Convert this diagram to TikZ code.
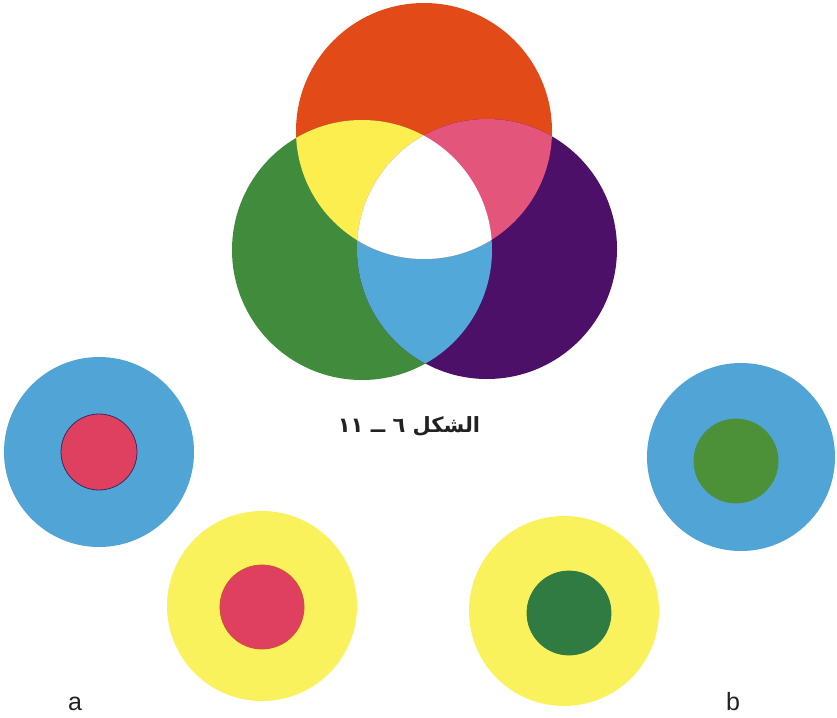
\documentclass[tikz,border=0pt]{standalone}
\usepackage{fontspec}
\setmainfont{Liberation Sans}
\newfontfamily\arabicfont[Script=Arabic]{DejaVu Sans}
\TeXXeTstate=1
\definecolor{primred}{HTML}{E24A17}
\definecolor{primgreen}{HTML}{418C3C}
\definecolor{primviolet}{HTML}{4C1068}
\definecolor{mixyellow}{HTML}{FDEE50}
\definecolor{mixpink}{HTML}{E4557C}
\definecolor{mixblue}{HTML}{52A8D9}
\definecolor{ringblue}{HTML}{50A4D6}
\definecolor{ringyellow}{HTML}{FAF25C}
\definecolor{dotred}{HTML}{E0405F}
\definecolor{dotgreen}{HTML}{4C9138}
\definecolor{dotdeep}{HTML}{2F7B41}
\definecolor{rimdark}{HTML}{3A2A60}
\definecolor{rimwarm}{HTML}{D0502E}
\definecolor{ink}{HTML}{222222}
\tikzset{
  disk/.style={fill=#1,draw=none},
  dot/.style={fill=#1,line width=0.8pt},
  tag/.style={font=\fontsize{25}{28}\selectfont,text=ink,inner sep=0pt},
  caption/.style={font=\arabicfont\bfseries\fontsize{21}{26}\selectfont,text=ink,inner sep=0pt},
}
\begin{document}
\begin{tikzpicture}[x=1pt,y=-1pt]
  \useasboundingbox (0,0) rectangle (837,717);
  % three primaries
  \coordinate (r) at (424,131);
  \coordinate (g) at (362,250);
  \coordinate (v) at (487,249);
  \fill[disk=primred] (r) circle[radius=128pt];
  \fill[disk=primgreen] (g) circle[radius=130pt];
  \fill[disk=primviolet] (v) circle[radius=130pt];
  % overlaps
  \begin{scope}
    \clip (g) circle[radius=130pt];
    \fill[disk=mixblue] (v) circle[radius=130pt];
  \end{scope}
  \begin{scope}
    \clip (r) circle[radius=128pt];
    \fill[disk=mixyellow] (g) circle[radius=130pt];
    \fill[disk=mixpink] (v) circle[radius=130pt];
    \clip (g) circle[radius=130pt];
    \fill[disk=white] (v) circle[radius=130pt];
  \end{scope}
  \node[caption] (cap) at (409,426) {\beginR الشكل ٦ ــ ١١\endR};
  % contrast targets
  \foreach \nm/\x/\y/\ro/\ring/\ix/\iy/\ri/\dotc/\rim in {
      a1/99/452/95/ringblue/99/452/38/dotred/rimdark,
      a2/262/606/95/ringyellow/262/607/42/dotred/rimwarm,
      b1/741/457/94/ringblue/736/461/42/dotgreen/dotgreen,
      b2/564/611/95/ringyellow/569/613/42/dotdeep/dotdeep%
  }{
    \fill[disk=\ring] (\x,\y) circle[radius=\ro pt];
    \filldraw[dot=\dotc,draw=\rim] (\ix,\iy) circle[radius=\ri pt];
  }
  \node[tag,anchor=base] (lbla) at (75,710) {a};
  \node[tag,anchor=base] (lblb) at (733,710) {b};
\end{tikzpicture}
\end{document}
